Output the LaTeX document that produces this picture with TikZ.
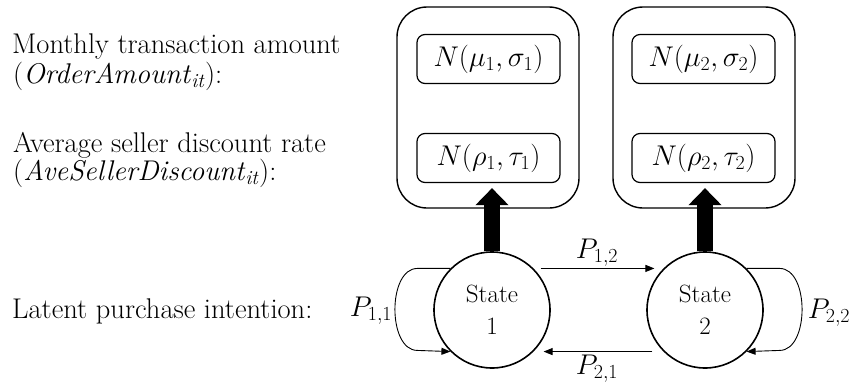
\RequirePackage{fix-cm}
\documentclass[tikz,border=0pt]{standalone}
\usetikzlibrary{arrows.meta}
\begin{document}
\begin{tikzpicture}[x=1pt,y=-1pt,
  lbl/.style={anchor=base west, inner sep=0pt, font=\fontsize{28.5}{30}\selectfont},
  bigbox/.style={draw, line width=1.4pt, rounded corners=30pt},
  dist/.style={draw, line width=1.2pt, rounded corners=8pt, minimum width=143pt, minimum height=49pt, inner sep=0pt, font=\fontsize{28.5}{30}\selectfont},
  st/.style={circle, draw, line width=1.6pt, minimum size=116pt, inner sep=0pt, align=center, font=\fontsize{25}{32}\selectfont},
  emit/.style={line width=16pt, -{Triangle[width=32pt,length=17pt]}},
  trans/.style={line width=0.9pt, -{Triangle[length=9pt,width=7pt]}},
  plab/.style={inner sep=0pt, font=\fontsize{28.5}{30}\selectfont}]
\useasboundingbox (0,0) rectangle (854,386);
% left labels
\node[lbl] (l1) at (12,53) {Monthly transaction amount};
\node[lbl] (l2) at (13,83) {(\textit{OrderAmount}\textsubscript{\textit{it}}):};
\node[lbl] (l3) at (13,152) {Average seller discount rate};
\node[lbl] (l4) at (13,180) {(\textit{AveSellerDiscount}\textsubscript{\textit{it}}):};
\node[lbl] (l5) at (12,318) {Latent purchase intention:};
% big boxes
\draw[bigbox] (397,7) rectangle (579,208);
\draw[bigbox] (613,7) rectangle (795,208);
% distributions
\node[dist] (m1) at (488.5,59) {$N(\mu_1,\sigma_1)$};
\node[dist] (r1) at (488.5,158) {$N(\rho_1,\tau_1)$};
\node[dist] (m2) at (703.5,59) {$N(\mu_2,\sigma_2)$};
\node[dist] (r2) at (703.5,158) {$N(\rho_2,\tau_2)$};
% states
\node[st] (c1) at (492,310) {State\\1};
\node[st] (c2) at (705,310) {State\\2};
% emission arrows
\draw[emit] (c1.north) -- ([yshift=-5pt]c1.north |- r1.south);
\draw[emit] (c2.north) -- ([yshift=-5pt]c2.north |- r2.south);
% transitions
\draw[trans, shorten <=7pt, shorten >=9pt] (c1.45) -- (c2.135);
\draw[trans, shorten <=11pt, shorten >=10pt] (c2.225) -- (c1.315);
\draw[trans] (c1.135) -- ++(-33,0) .. controls +(-30,0) and +(-30,0) .. ++(0,82) -- (c1.225);
\draw[trans] (c2.45) -- ++(33,0) .. controls +(30,0) and +(30,0) .. ++(0,82) -- (c2.315);
% transition labels
\node[plab] (p11) at (371,311) {$P_{1,1}$};
\node[plab] (p22) at (829,313) {$P_{2,2}$};
\node[plab] (p12) at (597,253) {$P_{1,2}$};
\node[plab] (p21) at (597,369) {$P_{2,1}$};
\end{tikzpicture}
\end{document}
